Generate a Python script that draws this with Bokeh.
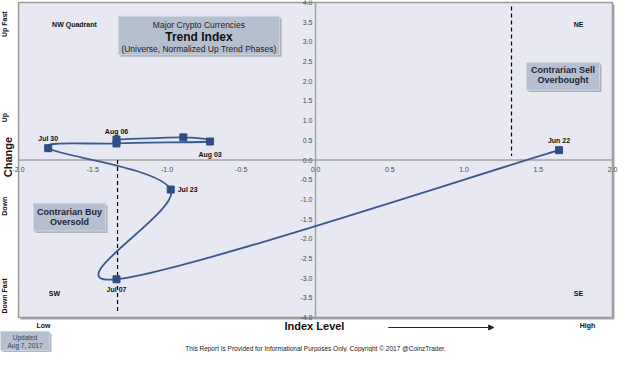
import numpy as np
from bokeh.plotting import figure
from bokeh.models import Range1d, ColumnDataSource, Arrow, NormalHead
from bokeh.core.properties import value
from bokeh.embed import file_html
from bokeh.resources import INLINE

# ---- data ----
dates = ["Jun 22", "Jul 07", "Jul 23", "Jul 30", "", "Aug 03", "", "Aug 06"]
index_level = [1.64, -1.34, -0.975, -1.80, -1.34, -0.71, -0.89, -1.34]
change = [0.25, -3.03, -0.75, 0.30, 0.42, 0.47, 0.575, 0.52]

x_ticks = [-2.0, -1.5, -1.0, -0.5, 0.0, 0.5, 1.0, 1.5, 2.0]
x_tick_labels = ["-2.0", "-1.5", "-1.0", "-0.5", "0.0", "0.5", "1.0", "1.5", "2.0"]
y_ticks = [4.0, 3.5, 3.0, 2.5, 2.0, 1.5, 1.0, 0.5, 0.0, -0.5, -1.0, -1.5, -2.0, -2.5, -3.0, -3.5, -4.0]
y_tick_labels = ["4.0", "3.5", "3.0", "2.5", "2.0", "1.5", "1.0", "0.5", "0.0", "-0.5", "-1.0",
                 "-1.5", "-2.0", "-2.5", "-3.0", "-3.5", "-4.0"]

x_min, x_max = -2.0, 2.0
y_min, y_max = -4.0, 4.0
buy_threshold = -1.333
sell_threshold = 1.32

# label placement (style)
lab_dx = [0, 0, 7, 0, 0, 0, 0, 0]
lab_dy = [-10, 10, 0, -10, 0, 13, 0, -8]
lab_align = ["center", "center", "left", "center", "center", "center", "center", "center"]

FONT = "Liberation Sans"
LINE = "#3b5a8f"
MARK = "#2e4d85"
BOXF = "#b6bfcf"
BOXL = "#cfd5df"
SHAD = "#9ea3ab"

W, H = 624, 352
# plot area placed at sx 18..612, sy 2..317 inside the canvas
sx0, sx1, sy0, sy1 = 18, 612, 2, 317
kx = (x_max - x_min) / (sx1 - sx0)
ky = (y_max - y_min) / (sy1 - sy0)
xr = Range1d(x_min - sx0 * kx, x_max + (W - sx1) * kx)
yr = Range1d(y_min - (H - sy1) * ky, y_max + sy0 * ky)

p = figure(width=W, height=H, x_range=xr, y_range=yr,
           x_axis_location=None, y_axis_location=None, toolbar_location=None,
           output_backend="svg", min_border=0)
p.grid.visible = False
p.background_fill_color = "white"
p.border_fill_color = "white"
p.outline_line_color = None

# plot panel with shadow
p.quad(left=[x_min + 2 * kx], right=[x_max + 2 * kx], top=[y_max - 2 * ky], bottom=[y_min - 2 * ky],
       fill_color="#a9a9a9", line_color=None)
p.quad(left=[x_min], right=[x_max], top=[y_max], bottom=[y_min], fill_color="#e7e8f1",
       line_color="#9b9b9b", line_width=1.5)

# center axes lines
p.segment(x0=[x_min, 0], y0=[0, y_min], x1=[x_max, 0], y1=[0, y_max], line_color="#a3a3a3",
          line_width=1.5)

# tick labels along the center axes
p.text(x=x_ticks, y=[0] * len(x_ticks), text=x_tick_labels, y_offset=9, text_align="center",
       text_baseline="middle", text_font=value(FONT), text_font_size="7px", text_color="#4a4a4a")
p.text(x=[0] * len(y_ticks), y=y_ticks, text=y_tick_labels, x_offset=-3, text_align="right",
       text_baseline="middle", text_font=value(FONT), text_font_size="7px", text_color="#4a4a4a")

# threshold dashed lines
p.segment(x0=[buy_threshold], y0=[0], x1=[buy_threshold], y1=[-3.85], line_color="black",
          line_width=1.2, line_dash="4 3")
p.segment(x0=[sell_threshold], y0=[3.9], x1=[sell_threshold], y1=[0.1], line_color="black",
          line_width=1.2, line_dash="4 3")

# boxes
def box(l, r, t, b):
    p.quad(left=[l + 2 * kx], right=[r + 2 * kx], top=[t - 2 * ky], bottom=[b - 2 * ky],
           fill_color=SHAD, line_color=None, fill_alpha=0.8)
    p.quad(left=[l], right=[r], top=[t], bottom=[b], fill_color=BOXF, line_color=BOXL,
           line_width=1)

box(-1.327, -0.242, 3.65, 2.675)
box(1.421, 1.912, 2.475, 1.775)
box(-1.899, -1.414, -1.1, -1.8)

def txt(x, y, s, size, bold=False, color="#111111", align="center", angle=0.0):
    p.text(x=[x], y=[y], text=[s], text_font=value(FONT), text_font_size=size,
           text_font_style="bold" if bold else "normal", text_align=align,
           text_baseline="middle", text_color=color, angle=angle)

txt(-0.785, 3.425, "Major Crypto Currencies", "8.5px", color="#222222")
txt(-0.785, 3.125, "Trend Index", "12px", bold=True)
txt(-0.785, 2.825, "(Universe, Normalized Up Trend Phases)", "8.5px", color="#222222")
txt(1.667, 2.275, "Contrarian Sell", "9px", bold=True, color="#1e2638")
txt(1.667, 2.025, "Overbought", "9px", bold=True, color="#1e2638")
txt(-1.657, -1.325, "Contrarian Buy", "9px", bold=True, color="#1e2638")
txt(-1.657, -1.575, "Oversold", "9px", bold=True, color="#1e2638")
txt(-1.623, 3.45, "NW Quadrant", "7px", bold=True)
txt(1.771, 3.45, "NE", "7px", bold=True)
txt(-1.758, -3.4, "SW", "7px", bold=True)
txt(1.771, -3.4, "SE", "7px", bold=True)

# smoothed path (Catmull-Rom as cubic Bezier)
P = np.column_stack([index_level, change])
n = len(P)
t = 1.0 / 6.0
x0, y0, x1, y1, cx0, cy0, cx1, cy1 = ([] for _ in range(8))
for i in range(n - 1):
    p0 = P[max(i - 1, 0)]
    p1 = P[i]
    p2 = P[i + 1]
    p3 = P[min(i + 2, n - 1)]
    c1 = p1 + (p2 - p0) * t
    c2 = p2 - (p3 - p1) * t
    x0.append(p1[0]); y0.append(p1[1]); x1.append(p2[0]); y1.append(p2[1])
    cx0.append(c1[0]); cy0.append(c1[1]); cx1.append(c2[0]); cy1.append(c2[1])
p.bezier(x0=x0, y0=y0, x1=x1, y1=y1, cx0=cx0, cy0=cy0, cx1=cx1, cy1=cy1,
         line_color=LINE, line_width=1.8)

src = ColumnDataSource(dict(x=index_level, y=change, d=dates, dx=lab_dx, dy=lab_dy, al=lab_align))
p.scatter("x", "y", source=src, marker="square", size=7, fill_color=MARK, line_color=MARK)
p.text("x", "y", text="d", source=src, x_offset="dx", y_offset="dy", text_align="al",
       text_baseline="middle", text_font=value(FONT), text_font_size="7px",
       text_font_style="bold", text_color="#111111")

# outer labels (outside the panel)
def ys(py):  # page pixel row -> data y
    return yr.end - (py - 8) * ky

lx = x_min - 14 * kx
txt(lx, 3.45, "Up Fast", "7px", bold=True, angle=np.pi / 2)
txt(lx, 1.075, "Up", "7px", bold=True, angle=np.pi / 2)
txt(x_min - 10.5 * kx, 0.075, "Change", "11px", bold=True, angle=np.pi / 2)
txt(lx, -1.175, "Down", "7px", bold=True, angle=np.pi / 2)
txt(lx, -3.45, "Down Fast", "7px", bold=True, angle=np.pi / 2)
txt(-1.832, ys(333), "Low", "7px", bold=True)
txt(-0.007, ys(333), "Index Level", "11px", bold=True)
txt(1.832, ys(333), "High", "7px", bold=True)
txt(0.0, ys(356), "This Report Is Provided for Informational Purposes Only. Copyright \u00a9 2017 @CoinzTrader.",
    "6.5px", color="#222222")

p.add_layout(Arrow(x_start=0.49, y_start=ys(335), x_end=1.2, y_end=ys(335), line_color="#222222",
                   line_width=1, end=NormalHead(size=5, fill_color="#222222", line_color="#222222")))

# updated box
bl, br = xr.start + 0 * kx, xr.start + 49 * kx
box(bl, br, ys(339), ys(358))
txt((bl + br) / 2, ys(344.5), "Updated", "6.5px", color="#33415c")
txt((bl + br) / 2, ys(352.5), "Aug 7, 2017", "6.5px", color="#33415c")

open("out.html", "w").write(file_html(p, INLINE))
